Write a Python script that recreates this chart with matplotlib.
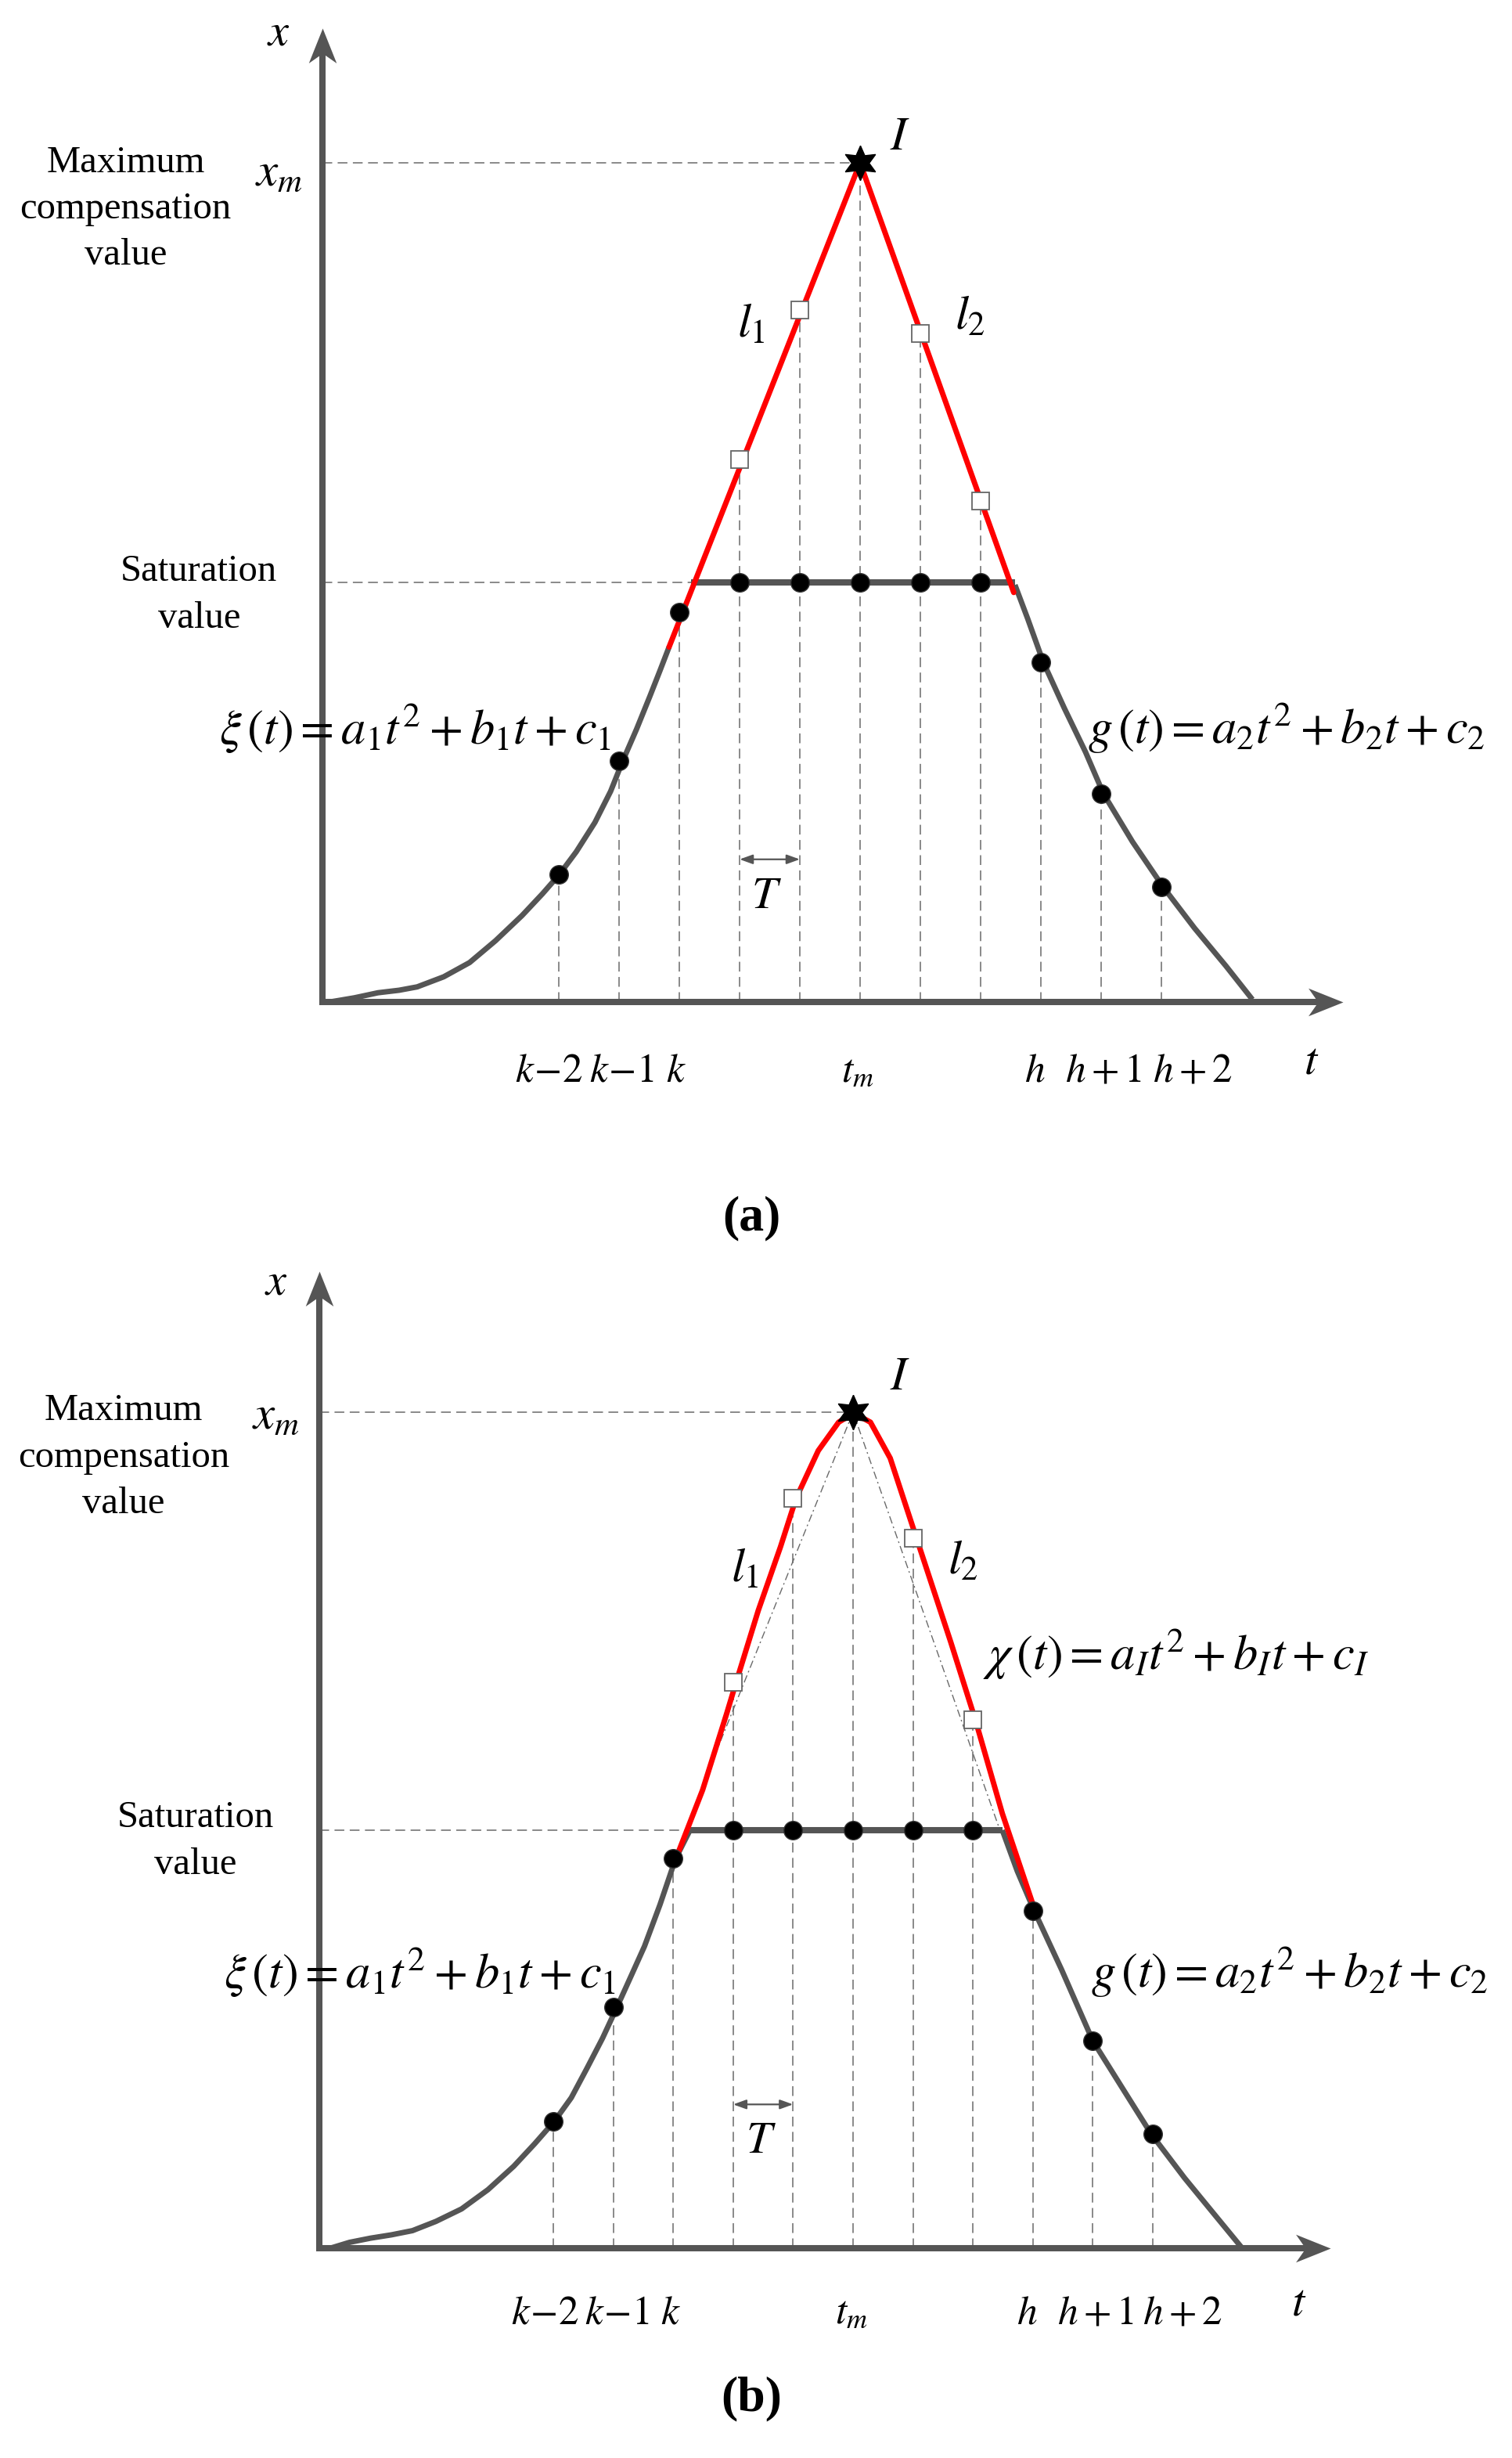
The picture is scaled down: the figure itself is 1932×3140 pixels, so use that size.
import numpy as np
import matplotlib
matplotlib.use("Agg")
import matplotlib.pyplot as plt
from matplotlib.path import Path
from matplotlib.markers import MarkerStyle

plt.rcParams['font.family'] = ['Liberation Serif', 'DejaVu Serif']
plt.rcParams['mathtext.fontset'] = 'stix'
plt.rcParams['lines.scale_dashes'] = False

# ---------------- data (t in sampling periods T, x in arbitrary units) ----------------
grid_t = [4, 5, 6, 7, 8, 9, 10, 11, 12, 13, 14]
tick_labels = [r"$k\!-\!2$", r"$k\!-\!1$", r"$k$", r"$t_m$", r"$h$", r"$h+1$", r"$h+2$"]
peak_t, peak_x = 9, 10.0
saturation_x = 5.0

# panel (a)
a_left_t = [0.2, 0.61, 1.0, 1.35, 1.65, 2.09, 2.52, 2.95, 3.39, 3.73, 4.01, 4.29, 4.6, 4.86,
            5.06, 5.29, 5.51, 5.68, 5.83]
a_left_x = [0.0, 0.05, 0.11, 0.14, 0.18, 0.30, 0.47, 0.73, 1.03, 1.29, 1.52, 1.79, 2.14, 2.51,
            2.87, 3.25, 3.64, 3.95, 4.23]
a_right_t = [11.57, 11.78, 12.04, 12.39, 12.74, 13.04, 13.52, 14.03, 14.55, 15.07, 15.51]
a_right_x = [4.97, 4.57, 4.05, 3.50, 2.98, 2.48, 1.91, 1.37, 0.88, 0.43, 0.03]
a_l1_t = [5.83, 9.0]
a_l1_x = [4.23, 10.0]
a_l2_t = [9.0, 11.55]
a_l2_x = [10.0, 4.88]
a_sat_t = [6.2, 11.57]
a_left_dots = [1.52, 2.87, 4.65]
a_right_dots = [4.05, 2.48, 1.37]
a_squares_t = [7, 8, 10, 11]
a_squares_x = [6.46, 8.25, 7.97, 5.97]

# panel (b)
b_left_t = [0.28, 0.6, 0.95, 1.3, 1.65, 2.04, 2.47, 2.91, 3.34, 3.69, 4.02, 4.3, 4.56, 4.82,
            5.06, 5.3, 5.52, 5.78, 6.04, 6.28]
b_left_x = [0.0, 0.07, 0.12, 0.16, 0.21, 0.32, 0.47, 0.70, 0.98, 1.25, 1.52, 1.80, 2.15, 2.51,
            2.88, 3.26, 3.61, 4.11, 4.66, 5.0]
b_right_t = [11.49, 11.74, 12.02, 12.48, 13.0, 13.48, 13.97, 14.53, 15.01, 15.48]
b_right_x = [5.0, 4.51, 4.04, 3.33, 2.48, 1.93, 1.37, 0.84, 0.42, 0.01]
b_red_t = [6.05, 6.49, 6.89, 7.05, 7.42, 7.79, 8.05, 8.42, 8.76, 9.01, 9.29, 9.62, 10.06,
           10.63, 11.04, 11.49, 12.03]
b_red_x = [4.67, 5.48, 6.39, 6.77, 7.63, 8.39, 8.97, 9.54, 9.88, 9.99, 9.88, 9.45, 8.49,
           7.25, 6.32, 5.20, 4.05]
b_l1_t = [9.0, 6.5]
b_l1_x = [10.0, 5.55]
b_l2_t = [9.0, 11.45]
b_l2_x = [10.0, 5.0]
b_sat_t = [6.28, 11.49]
b_left_dots = [1.52, 2.88, 4.66]
b_right_dots = [4.04, 2.48, 1.37]
b_squares_t = [7, 8, 10, 11]
b_squares_x = [6.77, 8.97, 8.49, 6.32]

# ---------------- style ----------------
GRAY = '#555555'
DASH = '#6a6a6a'
RED = '#ff0000'
W, H, DPI = 1933, 3140, 100

# stealth-like arrowheads (tip at marker origin)
HEAD_R = MarkerStyle(Path([(0, 0), (-1, 0.40), (-0.72, 0), (-1, -0.40), (0, 0)],
                          [Path.MOVETO, Path.CURVE3, Path.CURVE3, Path.LINETO, Path.CLOSEPOLY]
                          if False else None))
HEAD_U = MarkerStyle(Path([(0, 0), (0.40, -1), (0, -0.72), (-0.40, -1), (0, 0)]))

fig = plt.figure(figsize=(W / DPI, H / DPI), dpi=DPI)


def make_axes(px0, px_per_t, py0, py_per_x, top_py, bot_py):
    ax = fig.add_axes([0, 1 - bot_py / H, 1, (bot_py - top_py) / H])
    t_left = 4 + (0 - px0) / px_per_t
    t_right = 4 + (W - px0) / px_per_t
    x_top = (py0 - top_py) / py_per_x
    x_bot = (py0 - bot_py) / py_per_x
    ax.set_xlim(t_left, t_right)
    ax.set_ylim(x_bot, x_top)
    ax.axis('off')
    return ax


def draw_panel(ax, lay, left_t, left_x, right_t, right_x, sat_t, left_dots, right_dots,
               sq_t, sq_x, red_segments, dashdot=None, extra_text=None):
    t0 = lay['t0']
    # axes with arrowheads
    ax.plot([t0, t0], [-0.035, lay['ytip'] - 0.25], color=GRAY, lw=5.8,
            solid_capstyle='butt', zorder=3)
    ax.plot([t0 - 0.05, lay['xtip'] - 0.3], [0, 0], color=GRAY, lw=5.8,
            solid_capstyle='butt', zorder=3)
    ax.plot([t0], [lay['ytip']], marker=HEAD_U, ms=64, color=GRAY, mew=0, zorder=3)
    ax.plot([lay['xtip']], [0], marker=HEAD_R, ms=64, color=GRAY, mew=0, zorder=3)
    # horizontal dashed guides
    dash_kw = dict(color=DASH, lw=1.1, dashes=(9, 5), zorder=1)
    ax.plot([t0, peak_t], [peak_x, peak_x], **dash_kw)
    ax.plot([t0, sat_t[0]], [saturation_x, saturation_x], **dash_kw)
    # vertical dashed guides
    tops = list(left_dots) + [sq_x[0], sq_x[1], peak_x, sq_x[2], sq_x[3]] + list(right_dots)
    for tg, top in zip(grid_t, tops):
        ax.plot([tg, tg], [0, top], **dash_kw)
    # gray curves
    curve_kw = dict(color=GRAY, lw=5.0, solid_capstyle='butt', solid_joinstyle='round', zorder=4)
    ax.plot(left_t, left_x, **curve_kw)
    ax.plot(right_t, right_x, **curve_kw)
    ax.plot(sat_t, [saturation_x] * 2, color=GRAY, lw=5.8, solid_capstyle='butt', zorder=4)
    if dashdot is not None:
        for (tt, xx) in dashdot:
            ax.plot(tt, xx, color=DASH, lw=1.0, dashes=(7, 3, 1.5, 3), zorder=2)
    # red
    for (tt, xx) in red_segments:
        ax.plot(tt, xx, color=RED, lw=5.0, solid_capstyle='round', solid_joinstyle='round',
                zorder=5)
    # dots
    dot_kw = dict(marker='o', ls='none', ms=17, color='black', mec='#333333', mew=1, zorder=7)
    ax.plot(grid_t[:3], left_dots, **dot_kw)
    ax.plot(grid_t[3:8], [saturation_x] * 5, **dot_kw)
    ax.plot(grid_t[8:], right_dots, **dot_kw)
    # squares
    ax.plot(sq_t, sq_x, 's', ms=16, mfc='white', mec='#666666', mew=1.3, zorder=7)
    # star
    ax.plot([peak_t], [peak_x], marker=(6, 1, 0), ms=32, color='black', zorder=8)
    # T arrow
    ax.annotate('', xy=(8, lay['Ty']), xytext=(7, lay['Ty']),
                arrowprops=dict(arrowstyle='<|-|>,head_length=0.5,head_width=0.18',
                                color=GRAY, lw=1.6, shrinkA=0, shrinkB=0, mutation_scale=20),
                zorder=3)
    ax.text(lay['Tt'][0], lay['Tt'][1], r"$T$", fontsize=42, ha='center', va='center')
    # texts
    ax.text(*lay['xlab'], r"$x$", fontsize=42, ha='center', va='center')
    ax.text(*lay['maxc'], "Maximum\ncompensation\nvalue", fontsize=35, ha='center',
            va='center', linespacing=1.45)
    ax.text(*lay['xm'], r"$x_m$", fontsize=44, ha='center', va='center')
    ax.text(*lay['I'], r"$I$", fontsize=44, ha='center', va='center')
    ax.text(*lay['l1'], r"$l_1$", fontsize=44, ha='center', va='center')
    ax.text(*lay['l2'], r"$l_2$", fontsize=44, ha='center', va='center')
    ax.text(*lay['sat'], "Saturation\nvalue", fontsize=35, ha='center', va='center',
            linespacing=1.45)
    ax.text(*lay['xi'], r"$\xi\,(t)=a_1t^2+b_1t+c_1$", fontsize=45, ha='left', va='center')
    ax.text(*lay['g'], r"$g\,(t)=a_2t^2+b_2t+c_2$", fontsize=45, ha='left', va='center')
    if extra_text is not None:
        ax.text(*extra_text[0], extra_text[1], fontsize=45, ha='left', va='center')
    for lab, tt in zip(tick_labels, lay['tick_t']):
        ax.text(tt, lay['tick_y'], lab, fontsize=37, ha='center', va='baseline')
    ax.text(*lay['tlab'], r"$t$", fontsize=42, ha='center', va='baseline')


# panel (a): pixel mapping -> t = 4 + (px-714)/77, x = (1280-py)/107.2
ax_a = make_axes(714, 77, 1280, 107.2, 0, 1450)
lay_a = dict(t0=0.08, ytip=11.6, xtip=17.01, Ty=1.70, Tt=(7.45, 1.25),
             xlab=(-0.65, 11.53), maxc=(-3.19, 9.45), xm=(-0.65, 9.87), I=(9.66, 10.30),
             l1=(7.19, 8.06), l2=(10.83, 8.15), sat=(-1.97, 4.85), xi=(-1.64, 3.26),
             g=(12.78, 3.26), tick_t=[3.84, 5.04, 5.95, 8.96, 11.9, 13.04, 14.52],
             tick_y=-0.95, tlab=(16.49, -0.85))
draw_panel(ax_a, lay_a, a_left_t, a_left_x, a_right_t, a_right_x, a_sat_t,
           a_left_dots, a_right_dots, a_squares_t, a_squares_x,
           [(a_l1_t, a_l1_x), (a_l2_t, a_l2_x)])

# panel (b): t = 4 + (px-707)/76.6, x = (2872-py)/106.8
ax_b = make_axes(707, 76.6, 2872, 106.8, 1580, 3140)
lay_b = dict(t0=0.10, ytip=11.69, xtip=16.96, Ty=1.72, Tt=(7.46, 1.27),
             xlab=(-0.63, 11.54), maxc=(-3.17, 9.46), xm=(-0.63, 9.94), I=(9.78, 10.41),
             l1=(7.2, 8.11), l2=(10.83, 8.2), sat=(-1.97, 4.87), xi=(-1.5, 3.30),
             g=(12.97, 3.30), tick_t=[3.86, 5.06, 5.95, 8.97, 11.9, 13.05, 14.5],
             tick_y=-0.9, tlab=(16.44, -0.8))
draw_panel(ax_b, lay_b, b_left_t, b_left_x, b_right_t, b_right_x, b_sat_t,
           b_left_dots, b_right_dots, b_squares_t, b_squares_x,
           [(b_red_t, b_red_x)],
           dashdot=[(b_l1_t, b_l1_x), (b_l2_t, b_l2_x)],
           extra_text=((11.17, 7.10), r"$\chi\,(t)=a_It^2+b_It+c_I$"))

fig.text(960 / W, 1 - 1556 / H, "(a)", fontsize=46, fontweight='bold', ha='center', va='center')
fig.text(960 / W, 1 - 3064 / H, "(b)", fontsize=46, fontweight='bold', ha='center', va='center')

fig.savefig("out.png", dpi=DPI, facecolor='white')
